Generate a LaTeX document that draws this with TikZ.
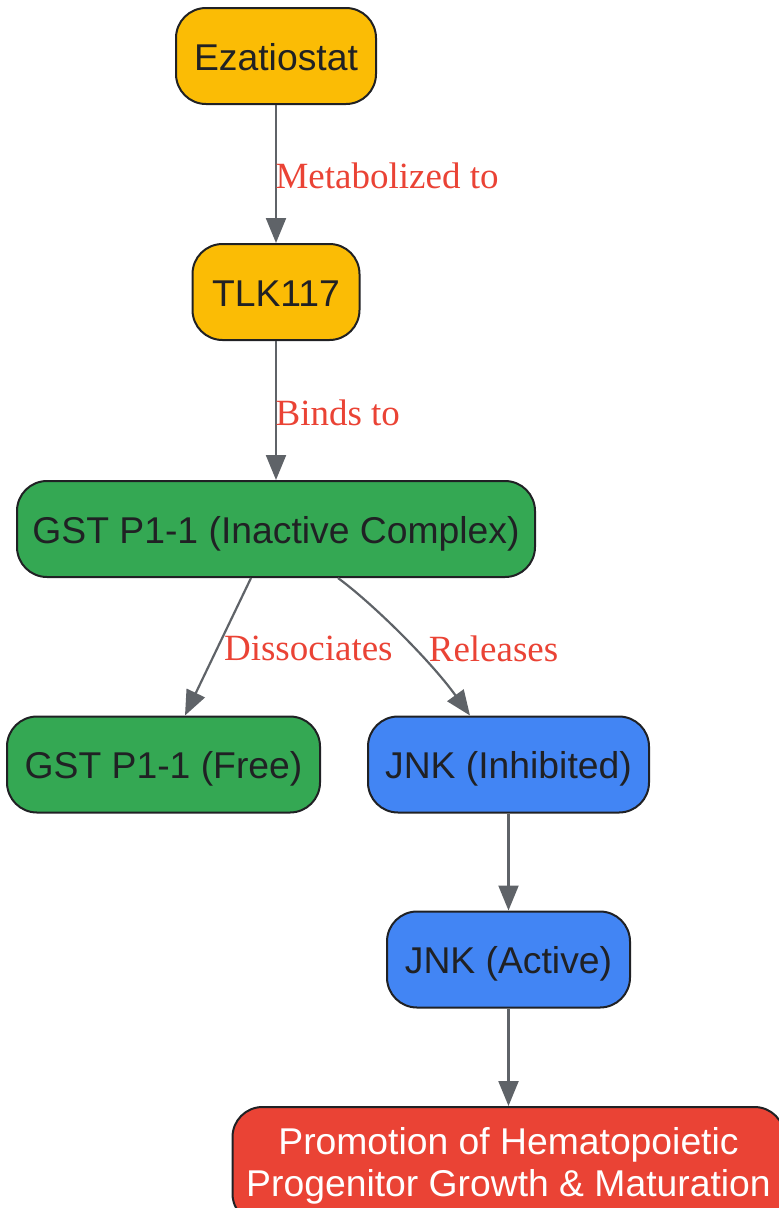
\documentclass[tikz,border=0pt]{standalone}
\usepackage{fontspec}
\setmainfont{Liberation Serif}
\newfontfamily\boxfont{Liberation Sans}
\usetikzlibrary{arrows.meta}
\definecolor{gyellow}{HTML}{FBBC05}
\definecolor{ggreen}{HTML}{34A853}
\definecolor{gblue}{HTML}{4285F4}
\definecolor{gred}{HTML}{EA4335}
\definecolor{ink}{HTML}{202124}
\definecolor{wire}{HTML}{5F6368}
\begin{document}
\begin{tikzpicture}[x=1pt,y=-1pt,>={Triangle[length=25pt,width=20pt]},
	box/.style={draw=ink,line width=2pt,rounded corners=30pt,minimum height=96pt,text=ink,
		text height=28pt,text depth=0pt,font=\boxfont\fontsize{37.3}{42}\selectfont},
	link/.style={->,draw=wire,line width=2.2pt},
	lbl/.style={text=gred,inner sep=0pt,yshift=-2pt,font=\fontsize{37}{42}\selectfont}]
	\useasboundingbox (0,0) rectangle (779,1208);
	% drug and its metabolite
	\node[box,fill=gyellow,minimum width=200pt] (eza) at (276,56) {Ezatiostat};
	\node[box,fill=gyellow,minimum width=167pt] (tlk) at (276,292) {TLK117};
	% GST P1-1
	\node[box,fill=ggreen,minimum width=518pt] (inact) at (276,529) {GST P1-1 (Inactive Complex)};
	\node[box,fill=ggreen,minimum width=313pt] (free) at (163.5,764.5) {GST P1-1 (Free)};
	% JNK
	\node[box,fill=gblue,minimum width=281pt] (jnki) at (508.5,764.5) {JNK (Inhibited)};
	\node[box,fill=gblue,minimum width=243pt] (jnka) at (508.5,959.5) {JNK (Active)};
	\node[box,fill=gred,text=white,minimum width=552pt,align=center,anchor=north,inner ysep=20pt,
		text height=,text depth=] (prog) at (508.5,1106)
		{Promotion of Hematopoietic\\Progenitor Growth \& Maturation};
	% edges
	\draw[link] (eza) -- (tlk) node[lbl,right,midway,xshift=-1.5pt]{Metabolized to};
	\draw[link] (tlk) -- (inact) node[lbl,right,midway,xshift=-1.5pt]{Binds to};
	\draw[link] ([xshift=-25pt]inact.south) -- ([xshift=21.5pt]free.north)
		node[lbl,right,midway,xshift=5pt]{Dissociates};
	\draw[link] ([xshift=62pt]inact.south) .. controls (372,603) and (430,660) .. ([xshift=-38.5pt]jnki.north)
		node[lbl,right,pos=0.5,xshift=26pt,yshift=-12pt]{Releases};
	\draw[link] (jnki) -- (jnka);
	\draw[link] (jnka) -- (prog);
\end{tikzpicture}
\end{document}
